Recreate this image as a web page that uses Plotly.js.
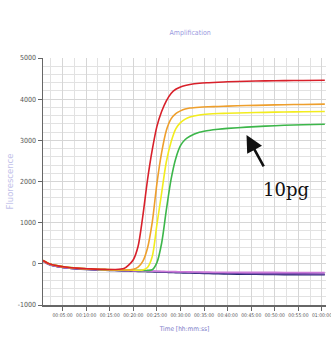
<!DOCTYPE html>
<html>
<head>
<meta charset="utf-8">
<script src="https://cdn.plot.ly/plotly-3.0.1.min.js"></script>
<style>html,body{margin:0;padding:0;background:#fff;}#chart{width:331px;height:351px;}</style>
</head>
<body>
<div id="chart"></div>
<script>
// time in minutes
const time = [0.85, 2, 4, 6, 8, 10, 12, 14, 16, 18, 19, 20, 21, 22, 23, 24, 25, 26, 27, 28, 29, 30, 31, 32, 34, 36, 38, 40, 44, 48, 52, 56, 60.6];

const red    = [80, 10, -50, -85, -105, -118, -128, -135, -138, -115, -30, 100, 420, 1150, 2030, 2760, 3340, 3700, 3960, 4140, 4240, 4295, 4330, 4355, 4385, 4400, 4412, 4422, 4435, 4445, 4450, 4455, 4460];
const orange = [80, 10, -50, -85, -105, -120, -130, -138, -143, -148, -148, -135, -80, 60, 380, 1000, 1950, 2700, 3240, 3520, 3650, 3715, 3760, 3785, 3805, 3815, 3822, 3830, 3845, 3855, 3865, 3872, 3880];
const yellow = [80, 10, -50, -85, -105, -120, -132, -140, -146, -150, -152, -154, -155, -150, -90, 170, 950, 1716, 2480, 2960, 3280, 3430, 3515, 3565, 3615, 3638, 3650, 3657, 3670, 3680, 3688, 3695, 3700];
const green  = [80, 10, -50, -85, -105, -120, -132, -141, -148, -152, -154, -156, -158, -159, -160, -145, 30, 500, 1310, 2050, 2560, 2870, 3020, 3100, 3195, 3240, 3270, 3290, 3320, 3345, 3365, 3378, 3390];
const pink   = [70, -5, -65, -95, -115, -128, -138, -146, -152, -158, -161, -164, -167, -170, -173, -176, -179, -182, -185, -188, -190, -192, -194, -196, -199, -202, -204, -205, -207, -208, -209, -210, -210];
const purple = [70, -8, -68, -98, -118, -131, -141, -149, -156, -163, -166, -170, -173, -177, -180, -184, -187, -191, -194, -197, -200, -203, -206, -209, -214, -218, -222, -226, -232, -237, -241, -244, -247];
const navy   = [65, -12, -72, -102, -122, -136, -146, -154, -162, -170, -174, -178, -182, -186, -190, -194, -198, -202, -206, -210, -214, -218, -221, -224, -230, -235, -240, -245, -252, -257, -261, -264, -267];

const seriesNames = ['navy', 'purple', 'pink', 'green', 'yellow', 'orange', 'red'];
const seriesData = [navy, purple, pink, green, yellow, orange, red];
const seriesColors = ['#262a72', '#7a4cb0', '#cc7ad8', '#3cb64a', '#f2ec1e', '#ee9f2c', '#d8202a'];

const xTickVals = [5, 10, 15, 20, 25, 30, 35, 40, 45, 50, 55, 60];
const xTickText = ['00:05:00', '00:10:00', '00:15:00', '00:20:00', '00:25:00', '00:30:00', '00:35:00', '00:40:00', '00:45:00', '00:50:00', '00:55:00', '01:00:00'];
const yTickVals = [-1000, 0, 1000, 2000, 3000, 4000, 5000];
const yTickText = ['-1000', '0', '1000', '2000', '3000', '4000', '5000'];

const traces = seriesData.map((d, i) => ({
  x: time, y: d, type: 'scatter', mode: 'lines', name: seriesNames[i],
  line: {color: seriesColors[i], width: 1.6, shape: 'spline', smoothing: 0.8},
  hoverinfo: 'skip'
}));

const narrow = 'DejaVu Sans Condensed, Liberation Sans Narrow, sans-serif';

const layout = {
  width: 331, height: 351,
  margin: {l: 43, r: 5, t: 58, b: 46},
  paper_bgcolor: '#fff', plot_bgcolor: '#fff',
  showlegend: false,
  title: {text: 'Amplification', font: {family: narrow, size: 7, color: '#9a9ae0'}, x: 0.52, xref: 'paper', y: 0.915, yref: 'container', xanchor: 'center'},
  xaxis: {
    range: [0.85, 60.85], tickmode: 'array', tickvals: xTickVals, ticktext: xTickText,
    tickfont: {family: narrow, size: 5, color: '#555'}, tickangle: 0, ticklabeloverflow: 'allow', ticklabelshift: -1.5,
    ticks: 'outside', ticklen: 4, tickcolor: '#666',
    showline: true, linecolor: '#666', linewidth: 1.5, mirror: false,
    showgrid: true, gridcolor: '#d6d6d6', gridwidth: 1, zeroline: false,
    minor: {tickmode: 'linear', tick0: 0, dtick: 2.5, showgrid: true, gridcolor: '#e2e2e2', ticks: ''},
    title: {text: 'Time [hh:mm:ss]', font: {family: narrow, size: 6.5, color: '#7a7ac8'}, standoff: 10}
  },
  yaxis: {
    range: [-1000, 5000], tickmode: 'array', tickvals: yTickVals, ticktext: yTickText,
    tickfont: {family: narrow, size: 7, color: '#555'},
    ticks: 'outside', ticklen: 4, tickcolor: '#666',
    showline: true, linecolor: '#666', linewidth: 1.5,
    showgrid: true, gridcolor: '#d6d6d6', gridwidth: 1, zeroline: false,
    minor: {tickmode: 'linear', tick0: 0, dtick: 200, showgrid: true, gridcolor: '#e2e2e2', ticks: ''},
    title: {text: 'Fluorescence', font: {family: 'DejaVu Sans, sans-serif', size: 8.5, color: '#c2c2ea'}, standoff: 3}
  },
  annotations: [
    {x: 44.0, y: 3130, xref: 'x', yref: 'y', text: '', showarrow: true, arrowhead: 2, arrowsize: 1.3, arrowwidth: 2.6, arrowcolor: '#111', ax: 18, ay: 33, standoff: 0},
    {x: 0, y: 0, xref: 'paper', yref: 'paper', xanchor: 'center', yanchor: 'middle', text: '10pg', showarrow: false, font: {family: 'DejaVu Serif, Liberation Serif, serif', size: 18, color: '#111'}}
  ]
};
// place text annotation in pixel-equivalent paper coordinates
layout.annotations[1].x = (286 - 43) / (331 - 43 - 5);
layout.annotations[1].y = (305 - 190) / (305 - 58);

Plotly.newPlot('chart', traces, layout, {staticPlot: true, displayModeBar: false});
</script>
</body>
</html>
